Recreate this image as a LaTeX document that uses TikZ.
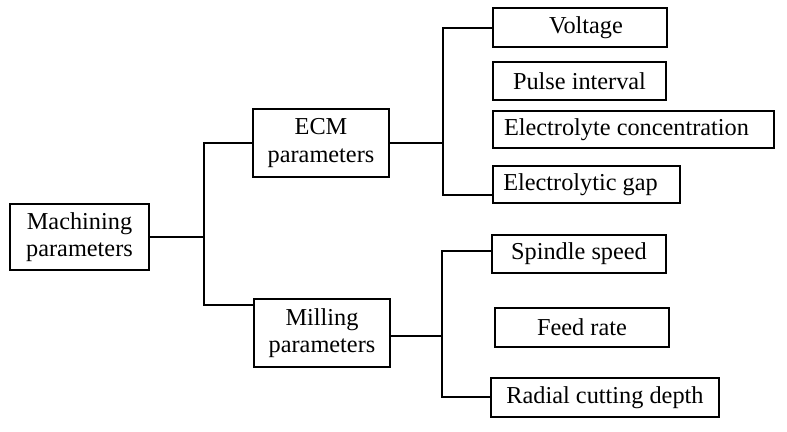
\documentclass[tikz,border=0pt]{standalone}
\usepackage{fontspec}
\setmainfont{Liberation Serif}
\begin{document}
\begin{tikzpicture}[x=1pt,y=1pt,
  box/.style={draw,line width=1.4pt,rectangle,inner sep=0pt,align=center,
    font=\fontsize{24.3}{27.5}\selectfont},
  conn/.style={line width=1.4pt}]
\useasboundingbox (0,0) rectangle (787,-431);
% boxes: given by pixel edges (x1,y1)-(x2,y2)
\node[box,minimum width=139pt,minimum height=66pt] (mach) at (79.5,-237) {Machining\\parameters};
\node[box,minimum width=136pt,minimum height=68pt] (ecm) at (321,-143) {ECM\\parameters};
\node[box,minimum width=136pt,minimum height=68pt] (mill) at (322,-333) {Milling\\parameters};
\node[box,minimum width=174pt,minimum height=39pt] (volt) at (580,-27.5) {\hspace*{12pt}Voltage};
\node[box,minimum width=173pt,minimum height=38pt] (pulse) at (579.5,-81) {Pulse interval};
\node[box,minimum width=281pt,minimum height=37pt] (conc) at (633.5,-129.5) {Electrolyte concentration\hspace*{14pt}};
\node[box,minimum width=187pt,minimum height=37pt] (gap) at (586.5,-184.5) {Electrolytic gap\hspace*{12pt}};
\node[box,minimum width=174pt,minimum height=38pt] (spin) at (579,-254) {Spindle speed};
\node[box,minimum width=174pt,minimum height=39pt] (feed) at (582,-327.5) {Feed rate};
\node[box,minimum width=228pt,minimum height=39pt] (rad) at (605,-397.5) {Radial cutting depth};
% junctions
\coordinate (j1) at (204,-143);
\coordinate (j2) at (204,-305);
\coordinate (k1) at (443,-28);
\coordinate (k2) at (443,-195);
\coordinate (m1) at (442,-251);
\coordinate (m2) at (442,-397);
% connectors
\draw[conn] (mach.east) -- (mach.east -| j1);
\draw[conn] (ecm.west) -- (j1) -- (j2) -- (mill.west |- j2);
\draw[conn] (ecm.east) -- (ecm.east -| k1);
\draw[conn] (volt.west |- k1) -- (k1) -- (k2) -- (gap.west |- k2);
\draw[conn] (mill.east |- 0,-336) -- (m1 |- 0,-336);
\draw[conn] (spin.west |- m1) -- (m1) -- (m2) -- (rad.west |- m2);
\end{tikzpicture}
\end{document}
